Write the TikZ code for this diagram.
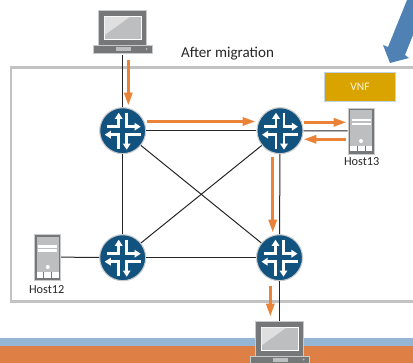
\documentclass[tikz,border=0pt]{standalone}
\usepackage{fontspec}
\setmainfont{Carlito}
\usetikzlibrary{arrows.meta}
\definecolor{rblue}{HTML}{12527F}
\definecolor{orangeA}{HTML}{EA8338}
\definecolor{frameG}{HTML}{C2C2C2}
\definecolor{darkG}{HTML}{767779}
\definecolor{midG}{HTML}{BDBEC0}
\definecolor{haloG}{HTML}{C9CACC}
\definecolor{vnfC}{HTML}{D9A400}
\definecolor{bandB}{HTML}{94B6D4}
\definecolor{bandO}{HTML}{DE8045}
\definecolor{bigB}{HTML}{4F81B5}
\tikzset{
  x=0.75pt,y=-0.75pt,
  router/.style={circle,draw=haloG,line width=0.8pt,fill=rblue,minimum size=34.5pt,inner sep=0pt},
  serverbox/.style={rectangle,draw=haloG,line width=0.6pt,fill=darkG,minimum width=19.5pt,minimum height=34.5pt,inner sep=0pt},
  laptopbox/.style={rectangle,minimum width=45pt,minimum height=33pt,inner sep=0pt},
  link/.style={draw=black!85,line width=0.75pt},
  flow/.style={draw=orangeA,line width=2.5pt,-{Triangle[length=10pt,width=5.8pt]}},
  wflow/.style={draw=white,line width=1.9pt,line join=miter,-{Triangle[length=4.6pt,width=5.6pt]}},
  lbl/.style={font=\fontsize{9.2}{11}\selectfont,text=black!85,inner sep=0pt},
}
\newcommand{\routericon}[1]{%
  \begin{scope}[shift={(#1)}]
    \draw[wflow] (-16,-4) -- (-4,-4) -- (-4,-18);
    \draw[wflow] (4,-18) -- (4,-4) -- (18,-4);
    \draw[wflow] (-4,18) -- (-4,4) -- (-18,4);
    \draw[wflow] (18,4) -- (4,4) -- (4,19);
  \end{scope}}
\newcommand{\servericon}[1]{%
  \begin{scope}[shift={(#1)}]
    \fill[midG] (-11,-20.5) rectangle (11,20.5);
    \fill[white] (-9.5,-12) rectangle (9.5,-9.5);
    \fill[white] (-9.5,-8) rectangle (9.5,-5.5);
    \fill[white] (0,10) circle (2);
    \fill[white] (-11,15) rectangle (11,20.5);
    \draw[darkG,line width=0.7pt] (-4,15) -- (-4,20.5) (4,15) -- (4,20.5);
  \end{scope}}
\newcommand{\laptopicon}[1]{%
  \begin{scope}[shift={(#1)}]
    \fill[haloG] (-24.5,-22.5) rectangle (24.5,13);
    \fill[darkG] (-23.5,-21.5) rectangle (23.5,12);
    \fill[white] (-19,-17) rectangle (19,7.5);
    \fill[midG] (-18,-16) rectangle (18,6.5);
    \fill[gray!25] (-18,-16) -- (7,-16) -- (-18,2) -- cycle;
    \fill[haloG] (-30,12) rectangle (30,21);
    \fill[darkG] (-29,13) rectangle (29,20);
    \fill[midG] (-7,14.5) rectangle (8,18.5);
    \fill[midG] (24,16) circle (1);
  \end{scope}}
\begin{document}
\begin{tikzpicture}
\useasboundingbox (0,0) rectangle (413,363);
% bands
\fill[bandB] (0,338) rectangle (413,346);
\fill[bandO] (0,346) rectangle (413,363);
% frame
\node[draw=frameG,line width=2.2pt,minimum width=302.5pt,minimum height=175.5pt,inner sep=0pt,anchor=north west] (frame) at (9.5,66) {};
\node[font=\fontsize{11.3}{13}\selectfont,text=black!85,inner sep=0pt] (title) at (227.5,53.5) {After migration};
% big blue arrow
\fill[bigB] (390,63) -- (383,45) -- (388,47) -- (407,0) -- (413,0) -- (413,35) -- (405,55) -- (409,58) -- cycle;
% VNF
\node[draw=bandB!60,line width=0.5pt,fill=vnfC,minimum width=53.5pt,minimum height=22pt,inner sep=0pt,text=white!90!vnfC,font=\fontsize{8.6}{10}\selectfont] (vnf) at (360,87) {VNF};
% routers
\node[router] (r1) at (122.7,130.7) {};
\node[router] (r2) at (280,130.7) {};
\node[router] (r3) at (122.7,257.7) {};
\node[router] (r4) at (279.5,257.7) {};
% hosts
\node[serverbox] (h13) at (361,131) {};
\node[serverbox] (h12) at (47.8,257) {};
\node[lbl] (l13) at (361.7,162) {Host13};
\node[lbl] (l12) at (46.7,290) {Host12};
% laptops
\node[laptopbox] (top) at (122.7,33) {};
\node[laptopbox] (bot) at (279.5,343.5) {};
% links
\draw[link] (top.south) -- (r1);
\draw[link] (r1) -- (r2);
\draw[link] (r1) -- (r3);
\draw[link] (r1) -- (r4);
\draw[link] (r2) -- (r3);
\draw[link] (r2) -- (r4);
\draw[link] (r3) -- (r4);
\draw[link] (r2) -- (h13);
\draw[link] (h12) -- (r3);
\draw[link] (r4) -- (bot.north);
% icons
\routericon{r1}\routericon{r2}\routericon{r3}\routericon{r4}
\servericon{h13}\servericon{h12}
\laptopicon{top}\laptopicon{bot}
% named flow ends
\coordinate (a1s) at (128.3,60);   \coordinate (a1e) at (128.3,106);
\coordinate (a2s) at (147,121.5);  \coordinate (a2e) at (256,121.5);
\coordinate (a3s) at (304,122.3);  \coordinate (a3e) at (347,122.3);
\coordinate (a4s) at (346,139.3);  \coordinate (a4e) at (303,139.3);
\coordinate (a5s) at (272.7,157);  \coordinate (a5e) at (272.7,233);
\coordinate (a6s) at (270.3,285.7);\coordinate (a6e) at (270.3,317);
\draw[flow] (a1s) -- (a1e);
\draw[flow] (a2s) -- (a2e);
\draw[flow] (a3s) -- (a3e);
\draw[flow] (a4s) -- (a4e);
\draw[flow] (a5s) -- (a5e);
\draw[flow] (a6s) -- (a6e);
\end{tikzpicture}
\end{document}
